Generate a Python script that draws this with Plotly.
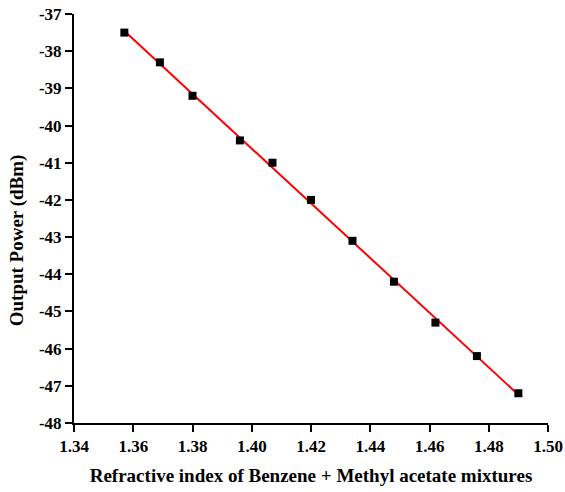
import numpy as np
import plotly.graph_objects as go

# Refractive index of the benzene + methyl acetate mixtures and measured output power
refractive_index = [1.357, 1.369, 1.380, 1.396, 1.407, 1.420, 1.434, 1.448, 1.462, 1.476, 1.490]
output_power_dbm = [-37.5, -38.3, -39.2, -40.4, -41.0, -42.0, -43.1, -44.2, -45.3, -46.2, -47.2]

x_ticks = [1.34, 1.36, 1.38, 1.40, 1.42, 1.44, 1.46, 1.48, 1.50]
y_ticks = [-37, -38, -39, -40, -41, -42, -43, -44, -45, -46, -47, -48]

# Least-squares linear fit drawn over the measured range
slope, intercept = np.polyfit(refractive_index, output_power_dbm, 1)
fit_x = [min(refractive_index), max(refractive_index)]
fit_y = [slope * v + intercept for v in fit_x]

font = dict(family="Liberation Serif", color="black", weight="bold")

fig = go.Figure()
fig.add_trace(go.Scatter(
    x=fit_x, y=fit_y, mode="lines",
    line=dict(color="#ff0000", width=2), showlegend=False, hoverinfo="skip",
))
fig.add_trace(go.Scatter(
    x=refractive_index, y=output_power_dbm, mode="markers",
    marker=dict(symbol="square", size=8, color="black"), showlegend=False,
))

axis_common = dict(
    showline=True, linecolor="black", linewidth=2, mirror=False,
    showgrid=False, zeroline=False, automargin=False,
    ticks="outside", ticklen=7, tickwidth=2, tickcolor="black",
    tickfont=dict(size=17, **font),
    minor=dict(ticks="outside", ticklen=4, tickwidth=1.5, tickcolor="black", nticks=2),
)

fig.update_xaxes(
    range=[1.34, 1.50], tickvals=x_ticks, ticktext=[f"{v:.2f}" for v in x_ticks],
    title=dict(text="Refractive index of Benzene + Methyl acetate mixtures",
               font=dict(size=19, **font), standoff=13),
    **axis_common,
)
fig.update_yaxes(
    range=[-48, -37], tickvals=y_ticks, ticktext=[f"{v}" for v in y_ticks],
    **axis_common,
)

# Vertical axis title, set slightly below the plot's mid-height
fig.add_annotation(
    text="Output Power (dBm)", textangle=-90,
    xref="paper", yref="paper", x=-0.120, y=0.447,
    xanchor="center", yanchor="middle", showarrow=False,
    font=dict(size=19, **font),
)

fig.update_layout(
    width=565, height=492,
    margin=dict(l=74, r=17, t=14, b=69),
    paper_bgcolor="white", plot_bgcolor="white",
)

fig.write_html("out.html")
